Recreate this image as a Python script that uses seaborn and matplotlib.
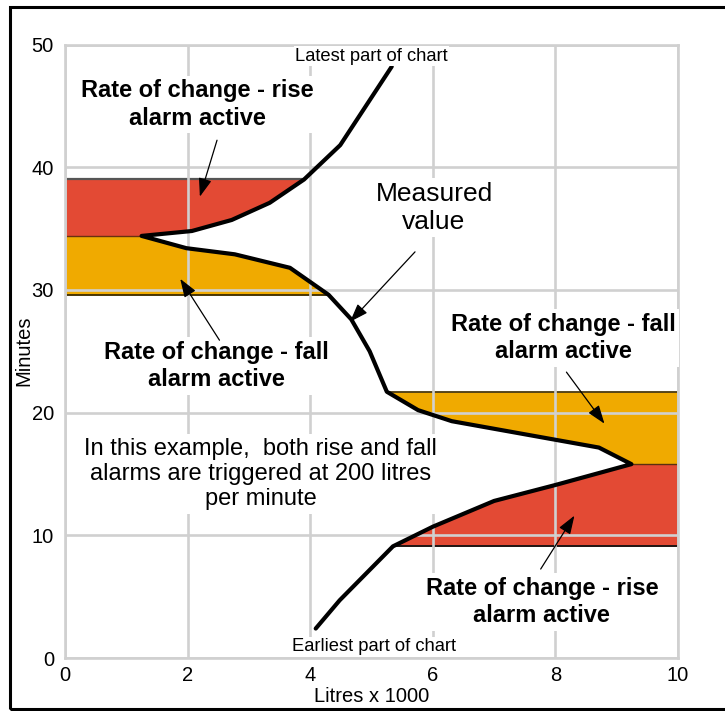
import matplotlib
matplotlib.use("Agg")
import matplotlib.pyplot as plt
import seaborn as sns
import pandas as pd
from matplotlib.patches import Rectangle

# Measured value path, ordered from earliest to latest reading
litres_k = [4.09, 4.48, 5.35, 6.00, 7.00, 8.00, 9.24, 8.71, 6.31, 5.76, 5.25,
            4.97, 4.67, 4.30, 3.67, 2.77, 1.98, 1.25, 2.07, 2.72, 3.34, 3.90,
            4.49, 5.33]
minutes = [2.4, 4.7, 9.1, 10.7, 12.8, 14.1, 15.8, 17.15, 19.3, 20.2, 21.7,
           25.0, 27.6, 29.6, 31.8, 32.9, 33.4, 34.4, 34.8, 35.7, 37.1, 39.0,
           41.8, 48.2]

# Alarm bands: (first point index, last point index, colour, side)
RED = "#E34A34"
ORANGE = "#F0AA00"
bands = [
    (2, 6, RED, "right"),      # rise alarm, 9.1 - 15.8 min
    (6, 10, ORANGE, "right"),  # fall alarm, 15.8 - 21.7 min
    (13, 17, ORANGE, "left"),  # fall alarm, 29.6 - 34.4 min
    (17, 21, RED, "left"),     # rise alarm, 34.4 - 39.0 min
]

x_ticks = [0, 2, 4, 6, 8, 10]
y_ticks = [0, 10, 20, 30, 40, 50]

df = pd.DataFrame({"Litres x 1000": litres_k, "Minutes": minutes})

sns.set_theme(style="whitegrid")
plt.rcParams["font.family"] = ["Liberation Sans", "DejaVu Sans"]
plt.rcParams["text.color"] = "black"
plt.rcParams["axes.labelcolor"] = "black"
plt.rcParams["xtick.color"] = "black"
plt.rcParams["ytick.color"] = "black"

fig = plt.figure(figsize=(7.25, 7.11), dpi=100)
ax = fig.add_axes([65 / 725, 1 - 658 / 711, 613 / 725, 613.5 / 711])

GRID = "#d0d0d0"
ax.set_axisbelow(False)
ax.grid(True, color=GRID, linewidth=1.9, zorder=2.5)
for s in ax.spines.values():
    s.set_visible(True)
    s.set_color(GRID)
    s.set_linewidth(1.9)

# Shaded alarm bands bounded by the measured curve
for i0, i1, col, side in bands:
    ys = minutes[i0:i1 + 1]
    xs = litres_k[i0:i1 + 1]
    if side == "right":
        ax.fill_betweenx(ys, xs, 10, color=col, linewidth=0, zorder=1)
    else:
        ax.fill_betweenx(ys, 0, xs, color=col, linewidth=0, zorder=1)

# Band edges
edge_lines = [
    (minutes[2], litres_k[2], 10, "#111111", 1.3),
    (minutes[6], litres_k[6], 10, "#5a3010", 1.0),
    (minutes[10], litres_k[10], 10, "#4a3a10", 1.3),
    (minutes[13], 0, litres_k[13], "#3a2a00", 1.3),
    (minutes[17], 0, litres_k[17], "#6a3010", 1.0),
    (minutes[21], 0, litres_k[21], "#555555", 1.6),
]
for y, xa, xb, c, lw in edge_lines:
    ax.hlines(y, xa, xb, colors=c, linewidth=lw, zorder=2)

sns.lineplot(data=df, x="Litres x 1000", y="Minutes", sort=False,
             color="black", linewidth=3.0, ax=ax, zorder=3)

ax.set_xlim(0, 10)
ax.set_ylim(0, 50)
ax.set_xticks(x_ticks)
ax.set_yticks(y_ticks)
ax.tick_params(axis="both", length=0, labelsize=14.5, colors="black")
ax.tick_params(axis="x", pad=6)
ax.tick_params(axis="y", pad=8)
ax.set_xlabel("Litres x 1000", fontsize=14.5, labelpad=1, color="black")
ax.set_ylabel("Minutes", fontsize=14.5, labelpad=-1.5, color="black")

box = dict(facecolor="white", edgecolor="none", pad=2.5)
bold = dict(fontsize=17, fontweight="bold", ha="center", va="center",
            linespacing=1.25, bbox=box, zorder=4, color="black")

ax.text(2.16, 45.1, "Rate of change - rise\nalarm active", **bold)
ax.text(2.47, 23.8, "Rate of change - fall\nalarm active", **bold)
ax.text(8.13, 26.1, "Rate of change - fall\nalarm active", **bold)
ax.text(7.78, 4.55, "Rate of change - rise\nalarm active", **bold)

ax.text(6.02, 36.7, "Measured\nvalue", fontsize=19, ha="center", va="center",
        linespacing=1.2, bbox=box, zorder=4, color="black")
ax.text(3.19, 15.0,
        "In this example,  both rise and fall\nalarms are triggered at 200 litres\nper minute",
        fontsize=17, ha="center", va="center", linespacing=1.2, bbox=box,
        zorder=4, color="black")
small_box = dict(facecolor="white", edgecolor="none", pad=1)
ax.text(5.0, 49.05, "Latest part of chart", fontsize=13.2, ha="center",
        va="center", bbox=small_box, zorder=4, color="black")
ax.text(5.04, 0.9, "Earliest part of chart", fontsize=13.2, ha="center",
        va="center", bbox=small_box, zorder=4, color="black")

arrow = dict(arrowstyle="-|>,head_length=0.45,head_width=0.16",
             mutation_scale=25, color="black", lw=0.9, shrinkA=0, shrinkB=0)
arrows = [
    ((2.48, 42.2), (2.20, 37.6)),
    ((5.71, 33.1), (4.65, 27.4)),
    ((2.52, 25.9), (1.88, 30.9)),
    ((8.18, 23.3), (8.80, 19.1)),
    ((7.76, 7.25), (8.31, 11.6)),
]
for tail, head in arrows:
    ax.annotate("", xy=head, xytext=tail, arrowprops=arrow, zorder=5)

# Outer frame
fig.patches.append(Rectangle((9.5 / 725, 1 - 708.5 / 711), 730 / 725,
                             (708.5 - 6.5) / 711, transform=fig.transFigure,
                             fill=False, edgecolor="black", linewidth=2.2))

fig.savefig("out.png", dpi=100)
